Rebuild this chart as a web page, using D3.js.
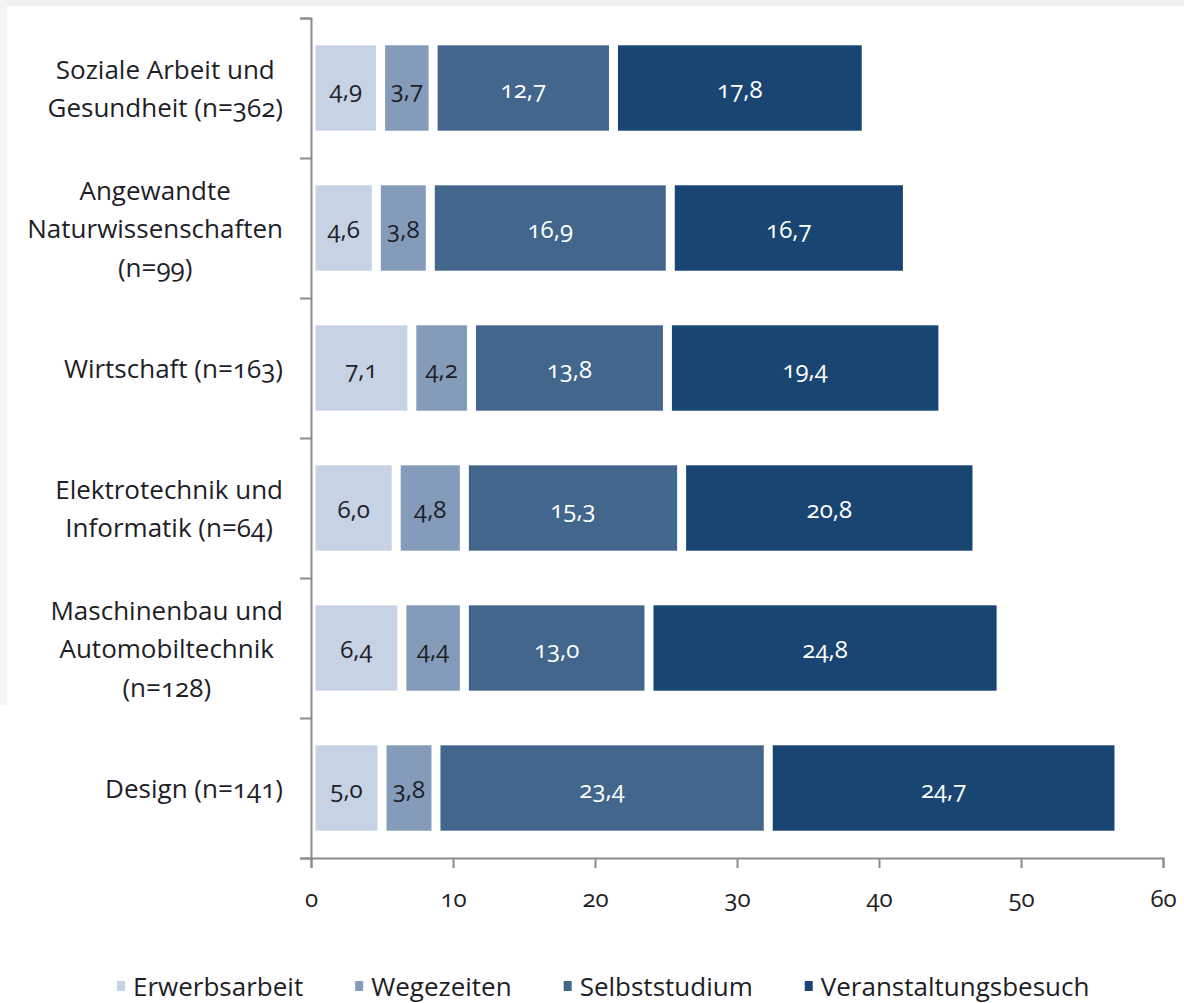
<!DOCTYPE html>
<html>
<head>
<meta charset="utf-8">
<script src="https://cdn.jsdelivr.net/npm/d3@7"></script>
<style>
  body { margin: 0; background: #fff; }
  svg text { font-family: "Open Sans", Lato, sans-serif; font-variant-numeric: oldstyle-nums; fill: #1e1e28; }
</style>
</head>
<body>
<div id="box-div"></div>
<script>
// categories, lines split with "|"
const categories = [
    "Soziale Arbeit und|Gesundheit (n=362)",
    "Angewandte|Naturwissenschaften|(n=99)",
    "Wirtschaft (n=163)",
    "Elektrotechnik und|Informatik (n=64)",
    "Maschinenbau und|Automobiltechnik|(n=128)",
    "Design (n=141)"
];
const seriesNames = ["Erwerbsarbeit", "Wegezeiten", "Selbststudium", "Veranstaltungsbesuch"];
const erwerbsarbeit = [4.9, 4.6, 7.1, 6.0, 6.4, 5.0];
const wegezeiten = [3.7, 3.8, 4.2, 4.8, 4.4, 3.8];
const selbststudium = [12.7, 16.9, 13.8, 15.3, 13.0, 23.4];
const veranstaltungsbesuch = [17.8, 16.7, 19.4, 20.8, 24.8, 24.7];
const xTicks = [0, 10, 20, 30, 40, 50, 60];

const colors = ["#c6d3e4", "#849cba", "#42668c", "#184572"];
const labelColors = ["#1e1e28", "#1e1e28", "#ffffff", "#ffffff"];

const dms = {
    width: 1184,
    height: 1003,
    plotLeft: 311,
    plotRight: 1163,
    plotTop: 18,
    plotBottom: 858
};

const svg = d3.select('#box-div').append('svg')
    .attr('width', dms.width)
    .attr('height', dms.height);

// light grey frame strips of the screenshot
svg.append('rect').attr('x', 0).attr('y', 0).attr('width', dms.width).attr('height', 6).attr('fill', '#f0f0f0');
svg.append('rect').attr('x', 0).attr('y', 0).attr('width', 7).attr('height', 705).attr('fill', '#f5f5f5');

const table = categories.map((c, i) => ({
    cat: c,
    Erwerbsarbeit: erwerbsarbeit[i],
    Wegezeiten: wegezeiten[i],
    Selbststudium: selbststudium[i],
    Veranstaltungsbesuch: veranstaltungsbesuch[i]
}));

const stack = d3.stack().keys(seriesNames)(table);

const x = d3.scaleLinear().domain([0, 60]).range([dms.plotLeft, dms.plotRight]);
const y = d3.scaleBand().domain(categories)
    .range([dms.plotTop, dms.plotBottom])
    .paddingInner(0.39).paddingOuter(0.195);
const yEdge = d3.scaleLinear().domain([0, categories.length]).range([dms.plotTop, dms.plotBottom]);

const fmt = v => d3.format(".1f")(v).replace(".", ",");
const inset = 4.5;

// bars
stack.forEach((s, k) => {
    const g = svg.append('g').attr('class', 'series');
    g.selectAll('rect')
        .data(s)
        .join('rect')
        .attr('x', d => x(d[0]) + inset)
        .attr('y', d => y(d.data.cat))
        .attr('width', d => x(d[1]) - x(d[0]) - 2 * inset)
        .attr('height', y.bandwidth())
        .attr('fill', colors[k]);
    g.selectAll('text')
        .data(s)
        .join('text')
        .attr('x', d => (x(d[0]) + x(d[1])) / 2)
        .attr('y', d => y(d.data.cat) + y.bandwidth() / 2)
        .attr('text-anchor', 'middle')
        .attr('dominant-baseline', 'central')
        .style('font-size', '24px')
        .style('fill', labelColors[k])
        .text(d => fmt(d[1] - d[0]));
});

// axes
const yAxis = svg.append('g')
    .attr('transform', `translate(${dms.plotLeft},0)`)
    .call(d3.axisLeft(yEdge).tickValues(d3.range(categories.length + 1)).tickSize(11).tickFormat(''));
const xAxis = svg.append('g')
    .attr('transform', `translate(0,${dms.plotBottom})`)
    .call(d3.axisBottom(x).tickValues(xTicks).tickSize(10).tickPadding(22).tickFormat(d => d));
[yAxis, xAxis].forEach(a => {
    a.select('.domain').attr('stroke', '#8c8c8c').attr('stroke-width', 2);
    a.selectAll('.tick line').attr('stroke', '#8c8c8c').attr('stroke-width', 2);
});
xAxis.selectAll('.tick text')
    .style('font-size', '24px')
    .style('fill', '#1e1e28');

// category labels: block right-aligned, lines centred within block
const labelRight = 283;
const lineH = 38.5;
categories.forEach(c => {
    const lines = c.split("|");
    const g = svg.append('g');
    const texts = lines.map((l, j) => g.append('text')
        .attr('y', y(c) + y.bandwidth() / 2 + (j - (lines.length - 1) / 2) * lineH)
        .attr('dominant-baseline', 'central')
        .attr('text-anchor', 'middle')
        .style('font-size', '26px')
        .text(l));
    const w = d3.max(texts, t => t.node().getComputedTextLength());
    texts.forEach(t => t.attr('x', labelRight - w / 2));
});

// legend
const legend = svg.append('g');
let lx = 117;
const ly = 986;
seriesNames.forEach((n, k) => {
    legend.append('rect')
        .attr('x', lx).attr('y', ly - 5)
        .attr('width', 8).attr('height', 10)
        .attr('fill', colors[k]);
    const t = legend.append('text')
        .attr('x', lx + 16).attr('y', ly)
        .attr('dominant-baseline', 'central')
        .style('font-size', '26px')
        .text(n);
    lx += 16 + t.node().getComputedTextLength() + 52;
});
</script>
</body>
</html>
